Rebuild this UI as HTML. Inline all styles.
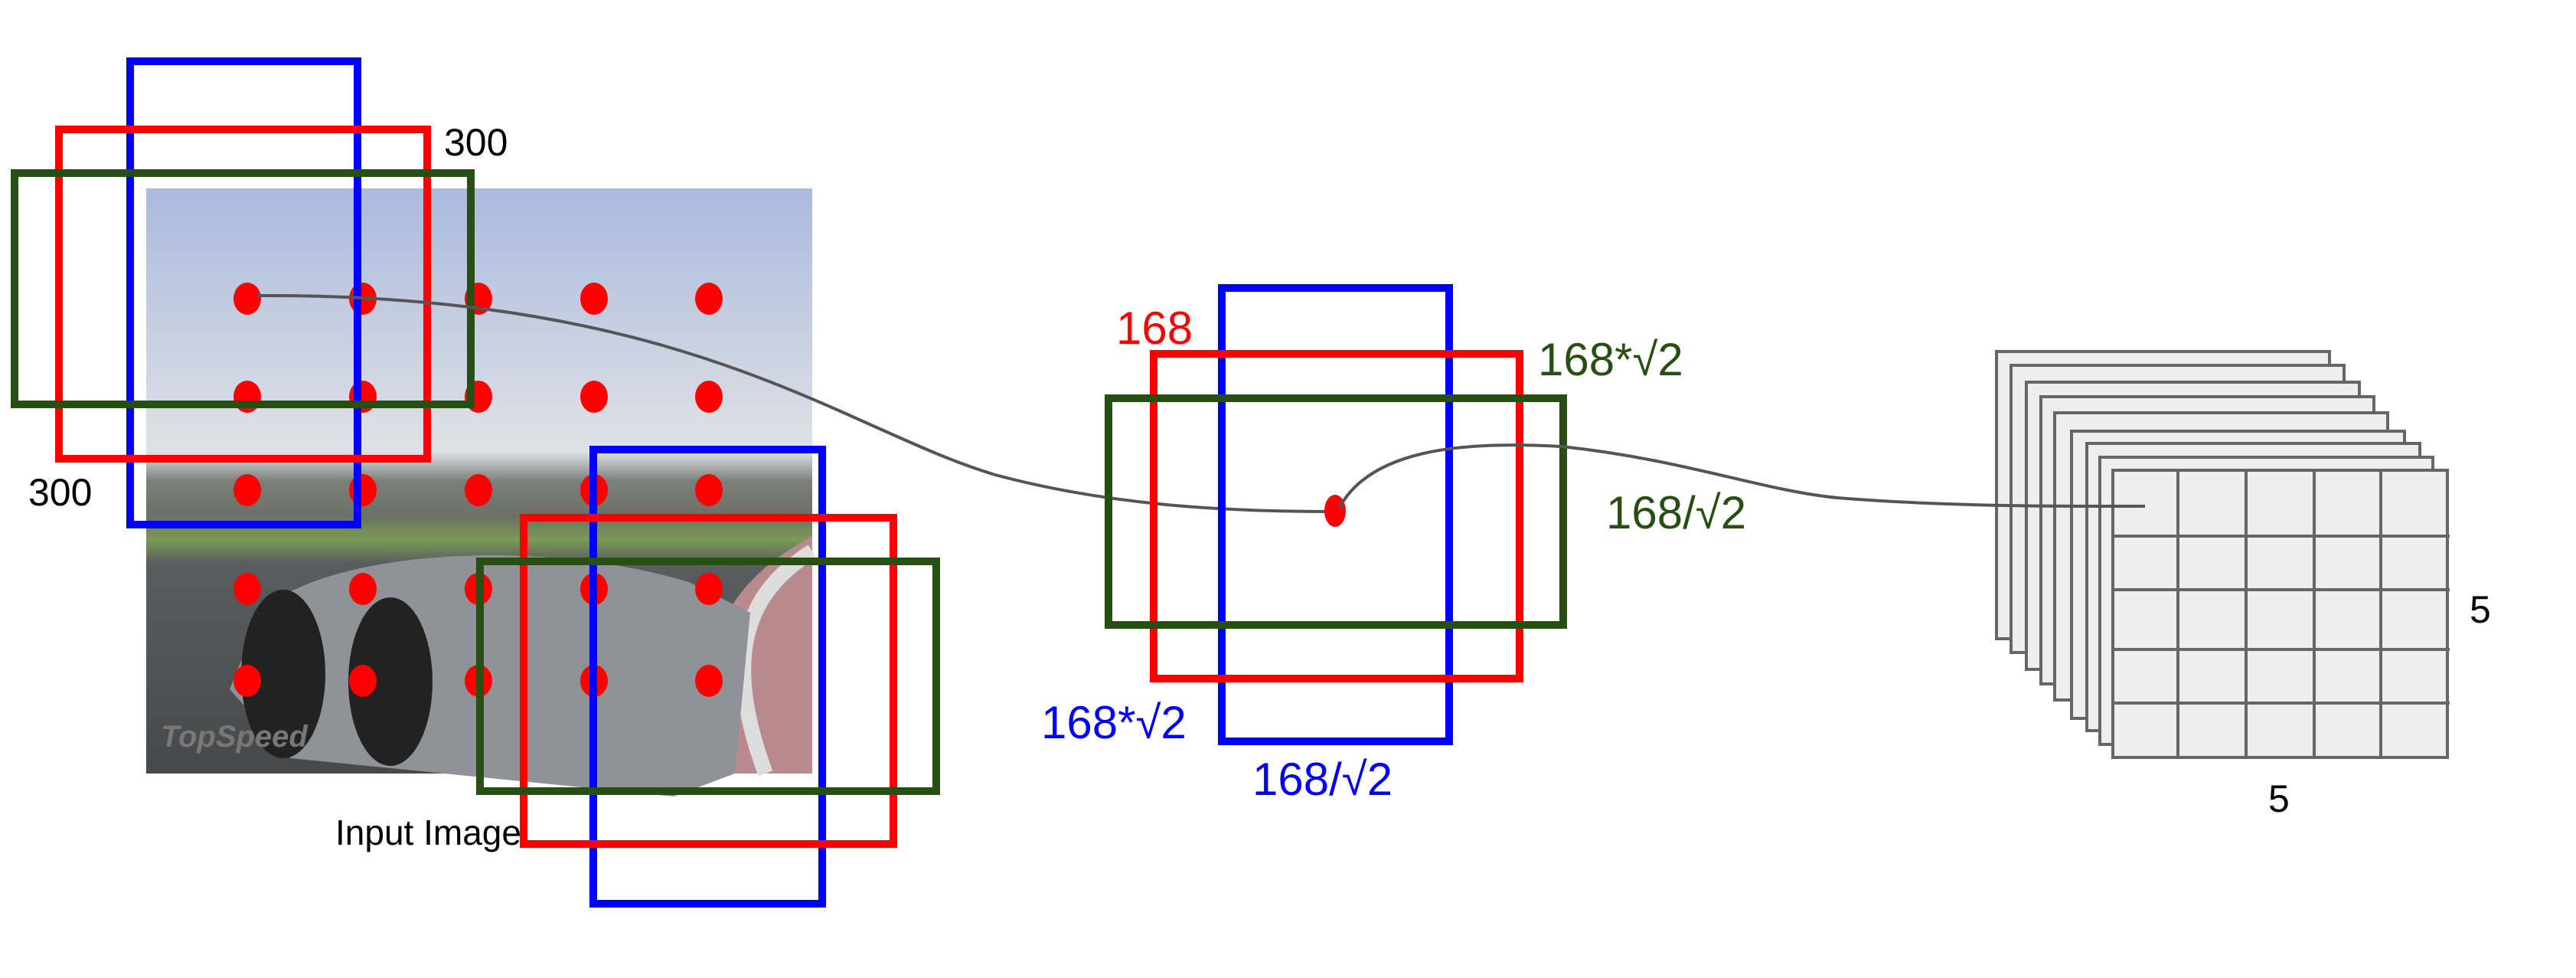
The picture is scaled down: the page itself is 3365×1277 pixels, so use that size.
<!DOCTYPE html>
<html><head><meta charset="utf-8"><style>
html,body{margin:0;padding:0;background:#fff;}
svg{display:block;font-family:"Liberation Sans",sans-serif;}
</style></head><body>
<svg width="3365" height="1277" viewBox="0 0 3365 1277">
<defs>
<linearGradient id="sky" x1="0" y1="0" x2="0" y2="1">
<stop offset="0" stop-color="#aab9de"/><stop offset="0.22" stop-color="#c4cde0"/><stop offset="0.45" stop-color="#dfe2e6"/><stop offset="0.5" stop-color="#7d7f7a"/><stop offset="0.56" stop-color="#6c7066"/><stop offset="0.6" stop-color="#7a9a55"/><stop offset="0.64" stop-color="#5a5d60"/><stop offset="1" stop-color="#474849"/>
</linearGradient>
</defs>
<g>
<rect x="191" y="246" width="870" height="764" fill="url(#sky)"/>
<path d="M1061,700 C950,760 890,850 960,1010 L1061,1010Z" fill="#b88a8e"/>
<path d="M1061,720 C980,770 940,850 1000,1010" stroke="#ddd" stroke-width="20" fill="none"/>
<path d="M340,800 C420,720 700,700 900,760 L980,800 L960,1010 L880,1040 L380,990 L300,900Z" fill="#8f9296"/>
<ellipse cx="370" cy="880" rx="55" ry="110" fill="#222"/>
<ellipse cx="510" cy="890" rx="55" ry="110" fill="#222"/>
<text x="210" y="975" font-size="40" font-style="italic" font-weight="bold" fill="#777">TopSpeed</text>
</g>
<g fill="#ff0000">
<ellipse cx="323" cy="390" rx="18" ry="21"/><ellipse cx="474" cy="390" rx="18" ry="21"/><ellipse cx="625" cy="390" rx="18" ry="21"/><ellipse cx="776" cy="390" rx="18" ry="21"/><ellipse cx="926" cy="390" rx="18" ry="21"/>
<ellipse cx="323" cy="518" rx="18" ry="21"/><ellipse cx="474" cy="518" rx="18" ry="21"/><ellipse cx="625" cy="518" rx="18" ry="21"/><ellipse cx="776" cy="518" rx="18" ry="21"/><ellipse cx="926" cy="518" rx="18" ry="21"/>
<ellipse cx="323" cy="640" rx="18" ry="21"/><ellipse cx="474" cy="640" rx="18" ry="21"/><ellipse cx="625" cy="640" rx="18" ry="21"/><ellipse cx="776" cy="640" rx="18" ry="21"/><ellipse cx="926" cy="640" rx="18" ry="21"/>
<ellipse cx="323" cy="769" rx="18" ry="21"/><ellipse cx="474" cy="769" rx="18" ry="21"/><ellipse cx="625" cy="769" rx="18" ry="21"/><ellipse cx="776" cy="769" rx="18" ry="21"/><ellipse cx="926" cy="769" rx="18" ry="21"/>
<ellipse cx="323" cy="889" rx="18" ry="21"/><ellipse cx="474" cy="889" rx="18" ry="21"/><ellipse cx="625" cy="889" rx="18" ry="21"/><ellipse cx="776" cy="889" rx="18" ry="21"/><ellipse cx="926" cy="889" rx="18" ry="21"/>
</g>
<g fill="none" stroke-width="10">
<rect x="170" y="80" width="297" height="605" stroke="#0000ff"/>
<rect x="77" y="169" width="481" height="430" stroke="#ff0000"/>
<rect x="19" y="226" width="596" height="302" stroke="#274e13"/>
</g>
<g fill="none" stroke-width="10">
<rect x="775" y="587" width="299" height="593" stroke="#0000ff"/>
<rect x="684" y="676" width="483" height="426" stroke="#ff0000"/>
<rect x="627" y="733" width="596" height="300" stroke="#274e13"/>
</g>
<text x="580" y="203" font-size="50" fill="#000">300</text>
<text x="37" y="660" font-size="50" fill="#000">300</text>
<text x="438" y="1103" font-size="46" fill="#000">Input Image</text>
<path d="M335,386 C900,383 1100,560 1300,620 C1450,660 1600,668 1740,668" fill="none" stroke="#555" stroke-width="4"/>
<g fill="none" stroke-width="10">
<rect x="1596" y="376" width="297" height="592" stroke="#0000ff"/>
<rect x="1507" y="462" width="478" height="424" stroke="#ff0000"/>
<rect x="1448" y="520" width="594" height="296" stroke="#274e13"/>
</g>
<ellipse cx="1744" cy="667" rx="14" ry="21" fill="#ff0000"/>
<g font-size="60">
<text x="1458" y="449" fill="#ff0000">168</text>
<text x="2009" y="490" fill="#274e13">168*√2</text>
<text x="2098" y="690" fill="#274e13">168/√2</text>
<text x="1360" y="964" fill="#0000ff">168*√2</text>
<text x="1636" y="1038" fill="#0000ff">168/√2</text>
</g>
<g fill="#eeeeee" stroke="#666" stroke-width="4">
<rect x="2608" y="459" width="435" height="375"/>
<rect x="2627" y="477" width="435" height="375"/>
<rect x="2647" y="499" width="435" height="375"/>
<rect x="2666" y="518" width="435" height="375"/>
<rect x="2684" y="539" width="435" height="375"/>
<rect x="2706" y="563" width="435" height="375"/>
<rect x="2726" y="579" width="435" height="375"/>
<rect x="2743" y="597" width="435" height="375"/>
<rect x="2760" y="614" width="437" height="375"/>
</g>
<g stroke="#666" stroke-width="4">
<line x1="2845" y1="614" x2="2845" y2="989"/><line x1="2934" y1="614" x2="2934" y2="989"/><line x1="3023" y1="614" x2="3023" y2="989"/><line x1="3110" y1="614" x2="3110" y2="989"/>
<line x1="2760" y1="700" x2="3200" y2="700"/><line x1="2760" y1="770" x2="3200" y2="770"/><line x1="2760" y1="848" x2="3200" y2="848"/><line x1="2760" y1="918" x2="3200" y2="918"/>
</g>
<text x="3226" y="813" font-size="50" fill="#000">5</text>
<text x="2963" y="1060" font-size="50" fill="#000">5</text>
<path d="M1750,662 C1790,590 1900,575 2040,583 C2200,600 2300,640 2400,650 C2550,662 2700,661 2802,661" fill="none" stroke="#555" stroke-width="4"/>
</svg>
</body></html>
